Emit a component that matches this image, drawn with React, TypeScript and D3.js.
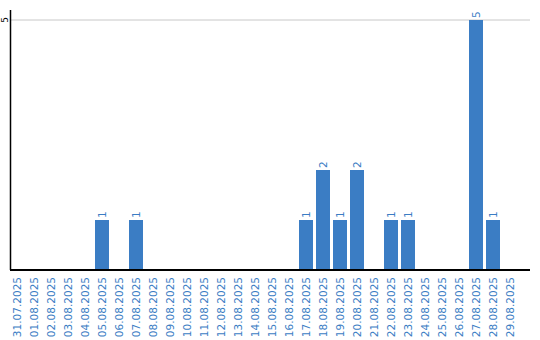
import React from "react";
import * as d3 from "d3";

const dates = [
  "31.07.2025", "01.08.2025", "02.08.2025", "03.08.2025", "04.08.2025", "05.08.2025",
  "06.08.2025", "07.08.2025", "08.08.2025", "09.08.2025", "10.08.2025", "11.08.2025",
  "12.08.2025", "13.08.2025", "14.08.2025", "15.08.2025", "16.08.2025", "17.08.2025",
  "18.08.2025", "19.08.2025", "20.08.2025", "21.08.2025", "22.08.2025", "23.08.2025",
  "24.08.2025", "25.08.2025", "26.08.2025", "27.08.2025", "28.08.2025", "29.08.2025",
];
const counts = [0, 0, 0, 0, 0, 1, 0, 1, 0, 0, 0, 0, 0, 0, 0, 0, 0, 1, 2, 1, 2, 0, 1, 1, 0, 0, 0, 5, 1, 0];
const yTicks = [5];

const W = 540;
const H = 340;
const BLUE = "#3b7dc4";
const FONT = "'DejaVu Sans', Verdana, sans-serif";

export default function App() {
  const x = d3.scaleBand<string>().domain(dates).range([10, 517]).paddingInner(3 / 17).paddingOuter(0);
  const y = d3.scaleLinear().domain([0, 5]).range([270, 20]);
  const x0 = 10;
  const x1 = 530;
  return (
    <svg width={W} height={H} style={{ position: "absolute", left: 0, top: 0, background: "#fff" }}>
      {yTicks.map((t) => (
        <g key={t}>
          <line x1={x0} x2={x1} y1={y(t)} y2={y(t)} stroke="#c8c8c8" strokeWidth={1} />
          <text
            transform={`translate(5,${y(t)}) rotate(-90)`}
            textAnchor="middle"
            dy="0.35em"
            fontSize={9}
            fontFamily={FONT}
            fill="#000"
          >
            {t}
          </text>
        </g>
      ))}
      {dates.map((d, i) =>
        counts[i] > 0 ? (
          <g key={d}>
            <rect x={x(d)} y={y(counts[i])} width={x.bandwidth()} height={y(0) - y(counts[i])} fill={BLUE} />
            <text
              transform={`translate(${(x(d) as number) + x.bandwidth() / 2},${y(counts[i]) - 2}) rotate(-90)`}
              textAnchor="start"
              dy="0.35em"
              fontSize={10.5}
              fontFamily={FONT}
              fill={BLUE}
            >
              {counts[i]}
            </text>
          </g>
        ) : null
      )}
      <line x1={10.5} x2={10.5} y1={10} y2={270} stroke="#000" strokeWidth={1.5} />
      <line x1={x0} x2={x1} y1={270} y2={270} stroke="#000" strokeWidth={2} />
      {dates.map((d) => (
        <text
          key={"l" + d}
          transform={`translate(${(x(d) as number) + x.bandwidth() / 2},277) rotate(-90)`}
          textAnchor="end"
          dy="0.35em"
          fontSize={10.5}
          fontFamily={FONT}
          fill={BLUE}
        >
          {d}
        </text>
      ))}
    </svg>
  );
}
